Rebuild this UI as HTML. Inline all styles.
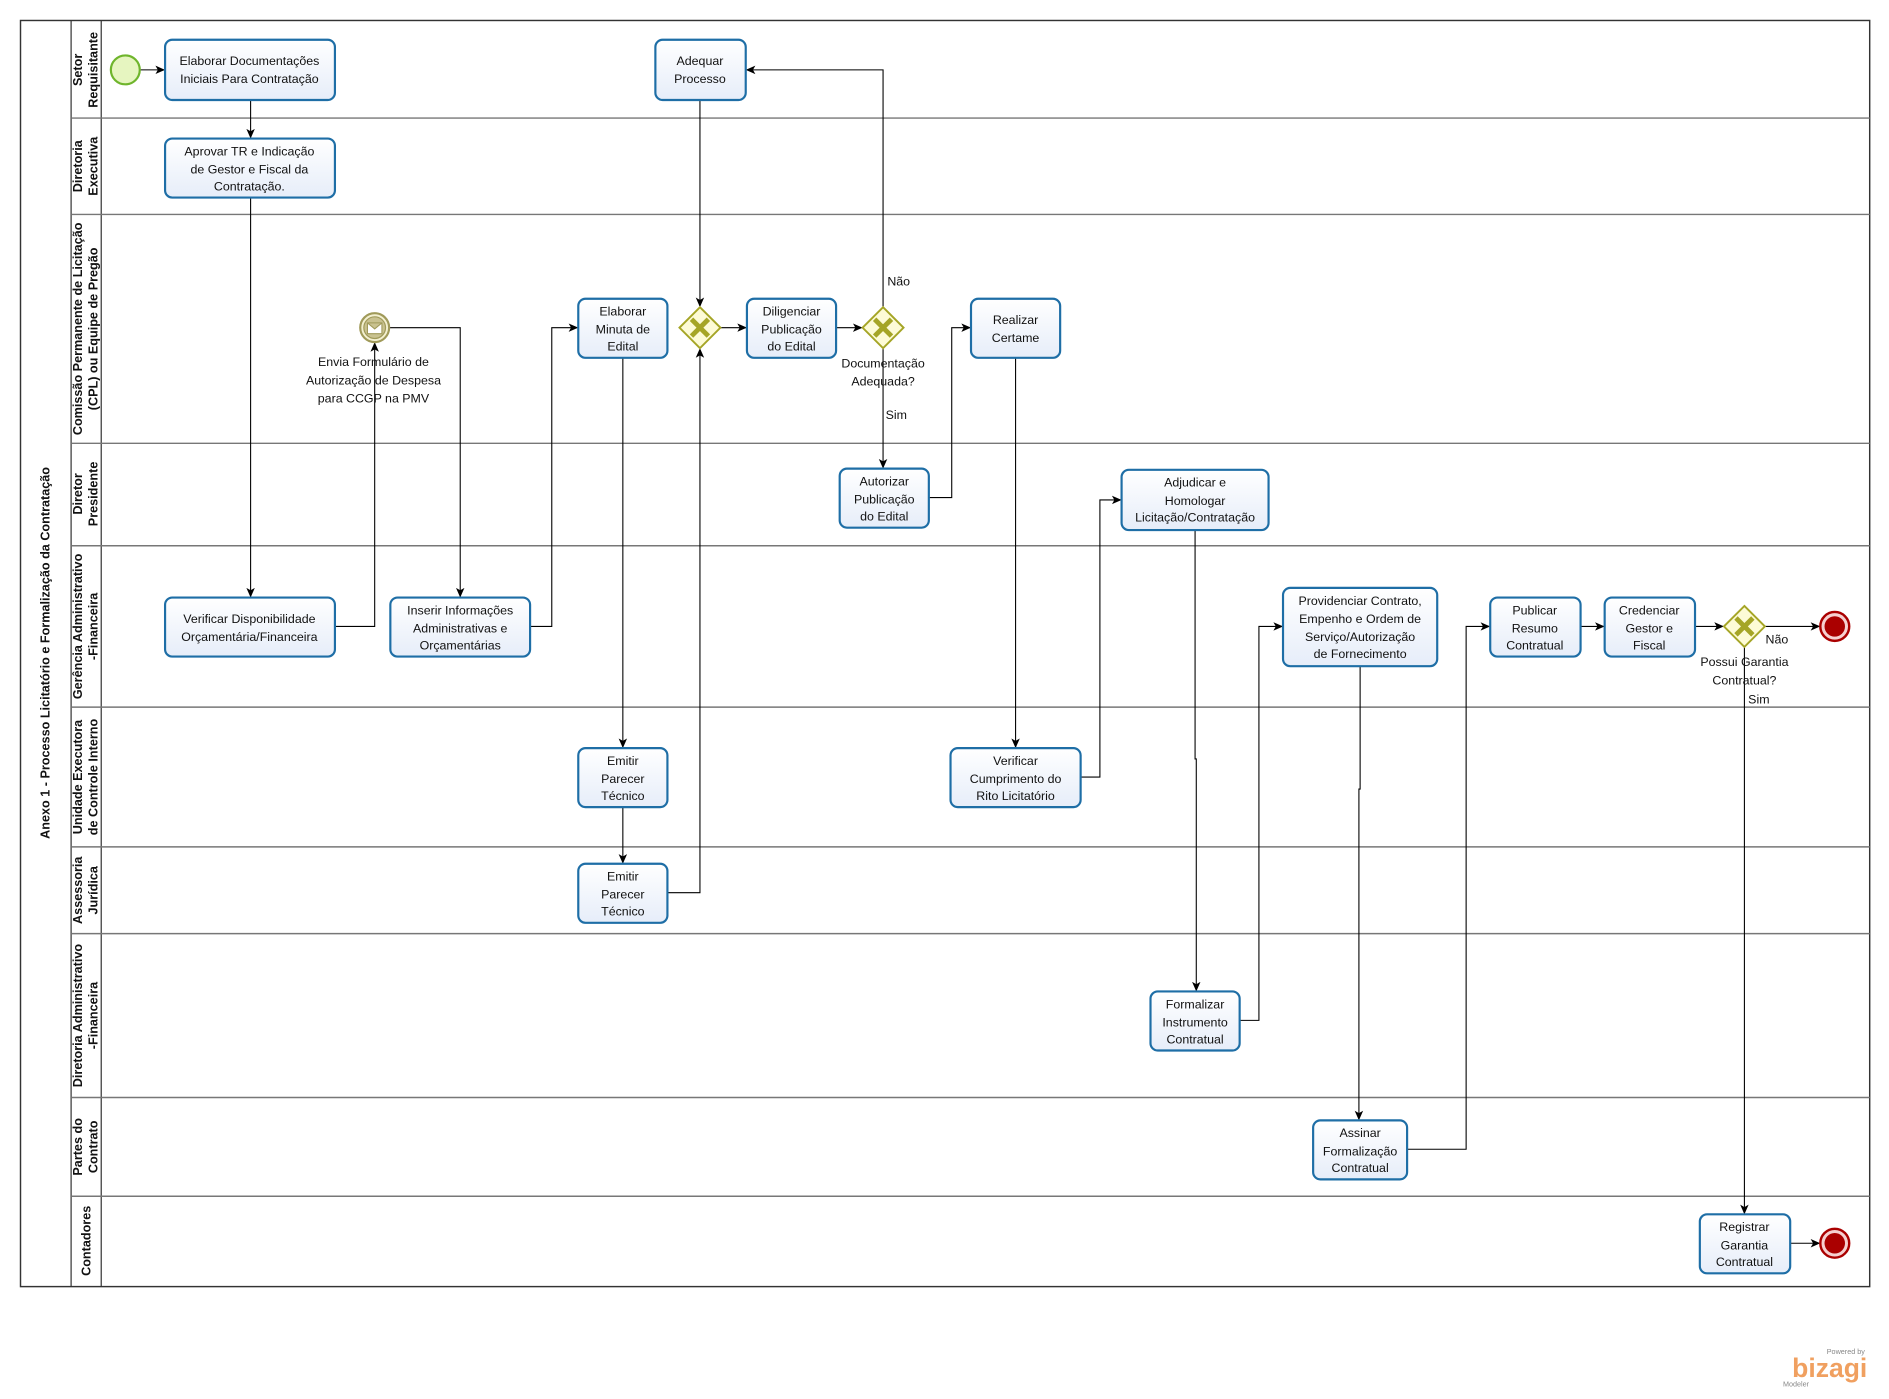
<!DOCTYPE html>
<html><head><meta charset="utf-8"><style>
html,body{margin:0;padding:0;background:#fff;}
svg{display:block;}
text{font-family:"Liberation Sans","DejaVu Sans",sans-serif;}
.t{font-size:10.3px;fill:#111;text-anchor:middle;}
.l{font-size:10.5px;font-weight:bold;fill:#111;text-anchor:middle;}
.task{fill:url(#g);stroke:#1e6ea6;stroke-width:1.8;}
.e{fill:none;stroke:#000;stroke-width:0.9;}
.ln{stroke:#777;stroke-width:1.2;}
</style></head><body>
<svg width="1889" height="1399" viewBox="0 0 1568 1161.3" xmlns="http://www.w3.org/2000/svg">
<defs>
<linearGradient id="g" x1="0" y1="0" x2="0" y2="1"><stop offset="0" stop-color="#ffffff"/><stop offset="1" stop-color="#e6edf9"/></linearGradient>
<marker id="a" markerWidth="8" markerHeight="8" refX="7" refY="4" orient="auto" markerUnits="userSpaceOnUse"><path d="M0,0.5 L8,4 L0,7.5 L2,4 z" fill="#000"/></marker>
<g id="gw"><path d="M0,-17 L17,0 L0,17 L-17,0 z" fill="#fdfbd6" stroke="#a5a526" stroke-width="1.6"/><path d="M-7,-7 L7,7 M7,-7 L-7,7" stroke="#a5a526" stroke-width="4"/></g>
</defs>
<rect x="17" y="17" width="1535" height="1051" fill="#fff" stroke="#333" stroke-width="1.2"/>
<line x1="59" y1="17" x2="59" y2="1068" stroke="#333" stroke-width="1"/>
<line x1="84" y1="17" x2="84" y2="1068" stroke="#333" stroke-width="1"/>
<g class="ln">
<line x1="59" y1="98" x2="1552" y2="98"/><line x1="59" y1="178" x2="1552" y2="178"/>
<line x1="59" y1="368" x2="1552" y2="368"/><line x1="59" y1="453" x2="1552" y2="453"/>
<line x1="59" y1="587" x2="1552" y2="587"/><line x1="59" y1="703" x2="1552" y2="703"/>
<line x1="59" y1="775" x2="1552" y2="775"/><line x1="59" y1="911" x2="1552" y2="911"/>
<line x1="59" y1="993" x2="1552" y2="993"/>
</g>
<text class="l" transform="translate(41,542) rotate(-90)">Anexo 1 - Processo Licitatório e Formalização da Contratação</text>
<g>
<text class="l" transform="translate(68,58) rotate(-90)">Setor</text><text class="l" transform="translate(81,58) rotate(-90)">Requisitante</text>
<text class="l" transform="translate(68,138) rotate(-90)">Diretoria</text><text class="l" transform="translate(81,138) rotate(-90)">Executiva</text>
<text class="l" transform="translate(68,273) rotate(-90)">Comissão Permanente de Licitação</text><text class="l" transform="translate(81,273) rotate(-90)">(CPL) ou Equipe de Pregão</text>
<text class="l" transform="translate(68,410) rotate(-90)">Diretor</text><text class="l" transform="translate(81,410) rotate(-90)">Presidente</text>
<text class="l" transform="translate(68,520) rotate(-90)">Gerência Administrativo</text><text class="l" transform="translate(81,520) rotate(-90)">-Financeira</text>
<text class="l" transform="translate(68,645) rotate(-90)">Unidade Executora</text><text class="l" transform="translate(81,645) rotate(-90)">de Controle Interno</text>
<text class="l" transform="translate(68,739) rotate(-90)">Assessoria</text><text class="l" transform="translate(81,739) rotate(-90)">Jurídica</text>
<text class="l" transform="translate(68,843) rotate(-90)">Diretoria Administrativo</text><text class="l" transform="translate(81,843) rotate(-90)">-Financeira</text>
<text class="l" transform="translate(68,952) rotate(-90)">Partes do</text><text class="l" transform="translate(81,952) rotate(-90)">Contrato</text>
<text class="l" transform="translate(75,1030) rotate(-90)">Contadores</text>
</g>
<g class="e" marker-end="url(#a)">
<path d="M116,58 H136"/>
<path d="M208,83 V114"/>
<path d="M208,164 V495"/>
<path d="M278,520 H311 V285"/>
<path d="M323,272 H382 V495"/>
<path d="M440,520 H458 V272 H479"/>
<path d="M517,297 V620"/>
<path d="M517,670 V716"/>
<path d="M554,741 H581 V290"/>
<path d="M581,83 V254"/>
<path d="M598,272 H619"/>
<path d="M694,272 H715"/>
<path d="M733,255 V58 H620"/>
<path d="M733,289 V388"/>
<path d="M771,413 H790 V272 H805"/>
<path d="M843,297 V620"/>
<path d="M897,645 H913 V415 H930"/>
<path d="M992,440 V630 H993 V822"/>
<path d="M1029,847 H1045 V520 H1064"/>
<path d="M1129,553 V655 H1128 V929"/>
<path d="M1168,954 H1217 V520 H1236"/>
<path d="M1312,520 H1331"/>
<path d="M1407,520 H1430"/>
<path d="M1465,520 H1510"/>
<path d="M1448,537 V1007"/>
<path d="M1486,1032 H1510"/>
</g>
<circle cx="104" cy="58" r="12" fill="#e6f5c0" stroke="#6fb52c" stroke-width="1.8"/>
<circle cx="311" cy="272" r="12" fill="#f3f0d0" stroke="#a09a5a" stroke-width="1.8"/>
<circle cx="311" cy="272" r="9" fill="#c9c290" stroke="#a09a5a" stroke-width="1"/>
<path d="M305,268 h12 v9 h-12 z M305,268 l6,5 l6,-5" fill="#fff" stroke="#a09a5a" stroke-width="0.9"/>
<circle cx="1523" cy="520" r="12" fill="#f6d0d0" stroke="#a00" stroke-width="2"/><circle cx="1523" cy="520" r="8.5" fill="#a00"/>
<circle cx="1523" cy="1032" r="12" fill="#f6d0d0" stroke="#a00" stroke-width="2"/><circle cx="1523" cy="1032" r="8.5" fill="#a00"/>
<use href="#gw" x="581" y="272"/><use href="#gw" x="733" y="272"/><use href="#gw" x="1448" y="520"/>
<g>
<rect class="task" x="137" y="33" width="141" height="50" rx="6"/>
<text class="t" x="207" y="54">Elaborar Documentações</text><text class="t" x="207" y="69">Iniciais Para Contratação</text>
<rect class="task" x="137" y="115" width="141" height="49" rx="6"/>
<text class="t" x="207" y="129">Aprovar TR e Indicação</text><text class="t" x="207" y="144">de Gestor e Fiscal da</text><text class="t" x="207" y="158">Contratação.</text>
<rect class="task" x="137" y="496" width="141" height="49" rx="6"/>
<text class="t" x="207" y="517">Verificar Disponibilidade</text><text class="t" x="207" y="532">Orçamentária/Financeira</text>
<rect class="task" x="324" y="496" width="116" height="49" rx="6"/>
<text class="t" x="382" y="510">Inserir Informações</text><text class="t" x="382" y="525">Administrativas e</text><text class="t" x="382" y="539">Orçamentárias</text>
<rect class="task" x="480" y="248" width="74" height="49" rx="6"/>
<text class="t" x="517" y="262">Elaborar</text><text class="t" x="517" y="277">Minuta de</text><text class="t" x="517" y="291">Edital</text>
<rect class="task" x="480" y="621" width="74" height="49" rx="6"/>
<text class="t" x="517" y="635">Emitir</text><text class="t" x="517" y="650">Parecer</text><text class="t" x="517" y="664">Técnico</text>
<rect class="task" x="480" y="717" width="74" height="49" rx="6"/>
<text class="t" x="517" y="731">Emitir</text><text class="t" x="517" y="746">Parecer</text><text class="t" x="517" y="760">Técnico</text>
<rect class="task" x="544" y="33" width="75" height="50" rx="6"/>
<text class="t" x="581" y="54">Adequar</text><text class="t" x="581" y="69">Processo</text>
<rect class="task" x="620" y="248" width="74" height="49" rx="6"/>
<text class="t" x="657" y="262">Diligenciar</text><text class="t" x="657" y="277">Publicação</text><text class="t" x="657" y="291">do Edital</text>
<rect class="task" x="697" y="389" width="74" height="49" rx="6"/>
<text class="t" x="734" y="403">Autorizar</text><text class="t" x="734" y="418">Publicação</text><text class="t" x="734" y="432">do Edital</text>
<rect class="task" x="806" y="248" width="74" height="49" rx="6"/>
<text class="t" x="843" y="269">Realizar</text><text class="t" x="843" y="284">Certame</text>
<rect class="task" x="789" y="621" width="108" height="49" rx="6"/>
<text class="t" x="843" y="635">Verificar</text><text class="t" x="843" y="650">Cumprimento do</text><text class="t" x="843" y="664">Rito Licitatório</text>
<rect class="task" x="931" y="390" width="122" height="50" rx="6"/>
<text class="t" x="992" y="404">Adjudicar e</text><text class="t" x="992" y="419">Homologar</text><text class="t" x="992" y="433">Licitação/Contratação</text>
<rect class="task" x="955" y="823" width="74" height="49" rx="6"/>
<text class="t" x="992" y="837">Formalizar</text><text class="t" x="992" y="852">Instrumento</text><text class="t" x="992" y="866">Contratual</text>
<rect class="task" x="1065" y="488" width="128" height="65" rx="6"/>
<text class="t" x="1129" y="502">Providenciar Contrato,</text><text class="t" x="1129" y="517">Empenho e Ordem de</text><text class="t" x="1129" y="532">Serviço/Autorização</text><text class="t" x="1129" y="546">de Fornecimento</text>
<rect class="task" x="1090" y="930" width="78" height="49" rx="6"/>
<text class="t" x="1129" y="944">Assinar</text><text class="t" x="1129" y="959">Formalização</text><text class="t" x="1129" y="973">Contratual</text>
<rect class="task" x="1237" y="496" width="75" height="49" rx="6"/>
<text class="t" x="1274" y="510">Publicar</text><text class="t" x="1274" y="525">Resumo</text><text class="t" x="1274" y="539">Contratual</text>
<rect class="task" x="1332" y="496" width="75" height="49" rx="6"/>
<text class="t" x="1369" y="510">Credenciar</text><text class="t" x="1369" y="525">Gestor e</text><text class="t" x="1369" y="539">Fiscal</text>
<rect class="task" x="1411" y="1008" width="75" height="49" rx="6"/>
<text class="t" x="1448" y="1022">Registrar</text><text class="t" x="1448" y="1037">Garantia</text><text class="t" x="1448" y="1051">Contratual</text>
</g>
<text class="t" x="310" y="304">Envia Formulário de</text><text class="t" x="310" y="319">Autorização de Despesa</text><text class="t" x="310" y="334">para CCGP na PMV</text>
<text class="t" x="746" y="237">Não</text>
<text class="t" x="733" y="305">Documentação</text><text class="t" x="733" y="320">Adequada?</text>
<text class="t" x="744" y="348">Sim</text>
<text class="t" x="1475" y="534">Não</text>
<text class="t" x="1448" y="553">Possui Garantia</text><text class="t" x="1448" y="568">Contratual?</text>
<text class="t" x="1460" y="584">Sim</text>
<text x="1548" y="1124" font-size="6" fill="#888" text-anchor="end">Powered by</text>
<text x="1550" y="1143" font-size="22" fill="#f0a060" text-anchor="end" font-weight="bold">bizagi</text>
<text x="1480" y="1151" font-size="6" fill="#888">Modeler</text>
</svg>
</body></html>
